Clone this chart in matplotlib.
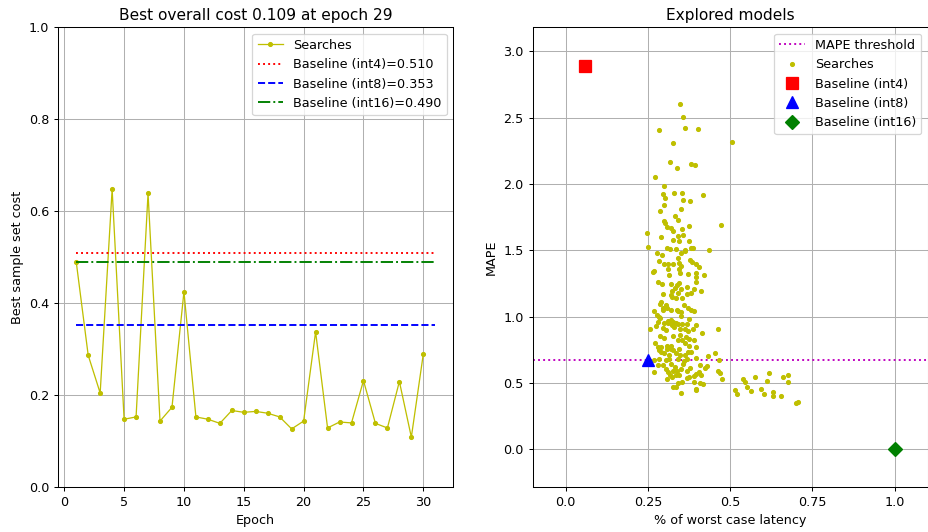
import matplotlib
matplotlib.use("Agg")
import matplotlib.pyplot as plt
import numpy as np

# ---------------- data ----------------
epochs = list(range(1, 31))
best_cost = [0.490, 0.287, 0.205, 0.648, 0.148, 0.153, 0.639, 0.144, 0.174, 0.425,
             0.153, 0.148, 0.139, 0.167, 0.163, 0.165, 0.161, 0.153, 0.127, 0.144,
             0.338, 0.129, 0.142, 0.140, 0.232, 0.139, 0.129, 0.230, 0.109, 0.290]
baseline_int4 = 0.510
baseline_int8 = 0.353
baseline_int16 = 0.490

search_latency = [
    0.348, 0.357, 0.284, 0.364, 0.402, 0.506, 0.327, 0.316, 0.339, 0.380,
    0.394, 0.271, 0.299, 0.295, 0.328, 0.355, 0.303, 0.357, 0.378, 0.416,
    0.299, 0.352, 0.288, 0.332, 0.343, 0.300, 0.301, 0.471, 0.375, 0.309,
    0.321, 0.327, 0.355, 0.246, 0.291, 0.341, 0.357, 0.325, 0.345, 0.375,
    0.249, 0.309, 0.317, 0.335, 0.362, 0.380, 0.386, 0.436,
    0.278, 0.293, 0.351, 0.364, 0.342, 0.378, 0.383, 0.285, 0.298, 0.311,
    0.325, 0.345, 0.352, 0.396, 0.406, 0.312, 0.268, 0.266, 0.345, 0.348,
    0.371, 0.314, 0.395, 0.397, 0.396, 0.420, 0.281, 0.294, 0.320, 0.337,
    0.345, 0.332, 0.352, 0.370, 0.389, 0.412, 0.323, 0.319, 0.341, 0.368,
    0.382, 0.295, 0.324, 0.335, 0.354, 0.291, 0.288, 0.305, 0.308, 0.321,
    0.361, 0.371, 0.381, 0.390, 0.337, 0.343, 0.352, 0.270, 0.277, 0.284,
    0.295, 0.297, 0.352, 0.376, 0.288, 0.282, 0.319, 0.311, 0.327,
    0.300, 0.310, 0.322, 0.335, 0.341, 0.355, 0.368, 0.395,
    0.257, 0.275, 0.297, 0.306, 0.330, 0.349, 0.364, 0.371, 0.386, 0.415, 0.462,
    0.287, 0.300, 0.325, 0.348, 0.366, 0.375, 0.389,
    0.272, 0.280, 0.291, 0.308, 0.321, 0.341, 0.355, 0.363, 0.376, 0.395,
    0.284, 0.290, 0.309, 0.319, 0.327, 0.345, 0.372, 0.382, 0.453,
    0.298, 0.315, 0.335, 0.349, 0.362, 0.432,
    0.270, 0.284, 0.305, 0.315, 0.341, 0.359, 0.370, 0.396,
    0.281, 0.297, 0.320, 0.332, 0.356, 0.377, 0.407, 0.425,
    0.269, 0.304, 0.312, 0.325, 0.339, 0.351, 0.368, 0.395, 0.406, 0.462, 0.470,
    0.317, 0.336, 0.345, 0.368, 0.376, 0.391, 0.410, 0.474,
    0.309, 0.322, 0.341, 0.354, 0.391, 0.409, 0.416, 0.334, 0.327,
    0.352, 0.396, 0.395, 0.465, 0.429,
    0.515, 0.522, 0.540, 0.546, 0.552, 0.564, 0.574, 0.595, 0.602, 0.612,
    0.619, 0.631, 0.630, 0.654, 0.662, 0.675, 0.677, 0.699, 0.706,
]
search_mape = [
    2.605, 2.503, 2.407, 2.424, 2.412, 2.319, 2.307, 2.166, 2.123, 2.148,
    2.141, 2.053, 1.985, 1.927, 1.930, 1.930, 1.895, 1.879, 1.872, 1.917,
    1.842, 1.812, 1.797, 1.761, 1.729, 1.721, 1.708, 1.689, 1.684, 1.674,
    1.668, 1.648, 1.661, 1.633, 1.601, 1.608, 1.616, 1.576, 1.568, 1.573,
    1.523, 1.518, 1.510, 1.512, 1.503, 1.518, 1.520, 1.503,
    1.480, 1.467, 1.478, 1.495, 1.445, 1.427, 1.412, 1.422, 1.397, 1.397,
    1.397, 1.402, 1.384, 1.397, 1.372, 1.357, 1.347, 1.335, 1.357, 1.332,
    1.324, 1.312, 1.327, 1.297, 1.259, 1.317, 1.261, 1.249, 1.246, 1.241,
    1.252, 1.219, 1.209, 1.224, 1.209, 1.194, 1.196, 1.164, 1.179, 1.171,
    1.181, 1.171, 1.146, 1.139, 1.141, 1.111, 1.098, 1.088, 1.066, 1.050,
    1.088, 1.063, 1.050, 1.043, 1.050, 1.045, 1.038, 1.043, 1.013, 1.000,
    1.068, 1.050, 1.003, 0.983, 0.988, 0.962, 0.973, 0.965, 0.962,
    0.950, 0.950, 0.937, 0.950, 0.943, 0.943, 0.948, 0.937,
    0.905, 0.930, 0.915, 0.898, 0.920, 0.910, 0.905, 0.895, 0.910, 0.877, 0.905,
    0.855, 0.842, 0.857, 0.860, 0.847, 0.832, 0.824,
    0.800, 0.772, 0.774, 0.781, 0.779, 0.824, 0.824, 0.800, 0.779, 0.769,
    0.749, 0.734, 0.754, 0.759, 0.749, 0.759, 0.734, 0.736, 0.729,
    0.724, 0.714, 0.724, 0.714, 0.709, 0.704,
    0.674, 0.684, 0.674, 0.679, 0.681, 0.668, 0.684, 0.691,
    0.636, 0.636, 0.644, 0.623, 0.646, 0.611, 0.636, 0.616,
    0.586, 0.608, 0.586, 0.589, 0.591, 0.608, 0.591, 0.566, 0.581, 0.591, 0.576,
    0.561, 0.561, 0.561, 0.536, 0.546, 0.553, 0.563, 0.528,
    0.528, 0.543, 0.498, 0.508, 0.506, 0.498, 0.491, 0.473, 0.473,
    0.423, 0.448, 0.457, 0.674, 0.626,
    0.448, 0.415, 0.530, 0.508, 0.468, 0.442, 0.543, 0.455, 0.417, 0.518,
    0.573, 0.430, 0.402, 0.402, 0.546, 0.558, 0.510, 0.352, 0.355,
]
mape_threshold = 0.675
int4_point = (0.059, 2.889)
int8_point = (0.250, 0.675)
int16_point = (1.000, 0.000)

# ---------------- figure ----------------
DPI = 92
fig = plt.figure(figsize=(928 / DPI, 532 / DPI), dpi=DPI)
ax1 = fig.add_axes([0.0628, 0.084, 0.4256, 0.8647])
ax2 = fig.add_axes([0.574, 0.084, 0.4256, 0.8647])

# Left plot
ax1.plot(epochs, best_cost, color='y', marker='.', linewidth=1, label='Searches')
x0, x1 = epochs[0], epochs[-1] + 1
ax1.hlines(baseline_int4, x0, x1, colors='r', linestyles=':', linewidth=1.5,
           label=f'Baseline (int4)={baseline_int4:.3f}')
ax1.hlines(baseline_int8, x0, x1, colors='b', linestyles='--', linewidth=1.5,
           label=f'Baseline (int8)={baseline_int8:.3f}')
ax1.hlines(baseline_int16, x0, x1, colors='g', linestyles='-.', linewidth=1.5,
           label=f'Baseline (int16)={baseline_int16:.3f}')
ax1.set_ylim(0, 1)
best_idx = int(np.argmin(best_cost))
ax1.set_title(f'Best overall cost {best_cost[best_idx]:.3f} at epoch {epochs[best_idx]}')
ax1.set_xlabel('Epoch')
ax1.set_ylabel('Best sample set cost')
ax1.grid(True)
ax1.legend(loc='upper right')

# Right plot
ax2.axhline(mape_threshold, color='m', linestyle=':', linewidth=1.5, label='MAPE threshold')
ax2.plot(search_latency, search_mape, '.', color='y', linestyle='none', label='Searches')
ax2.plot([int4_point[0]], [int4_point[1]], 's', color='r', markersize=9, label='Baseline (int4)')
ax2.plot([int8_point[0]], [int8_point[1]], '^', color='b', markersize=9, label='Baseline (int8)')
ax2.plot([int16_point[0]], [int16_point[1]], 'D', color='g', markersize=8, label='Baseline (int16)')
ax2.set_xlim(-0.1, 1.1)
ax2.set_ylim(-0.286, 3.18)
ax2.set_xticks([0.0, 0.25, 0.5, 0.75, 1.0])
ax2.set_xticklabels(['0.0', '0.25', '0.5', '0.75', '1.0'])
ax2.set_title('Explored models')
ax2.set_xlabel('% of worst case latency')
ax2.set_ylabel('MAPE')
ax2.grid(True)
ax2.legend(loc='upper right')

fig.savefig('out.png', dpi=DPI)
